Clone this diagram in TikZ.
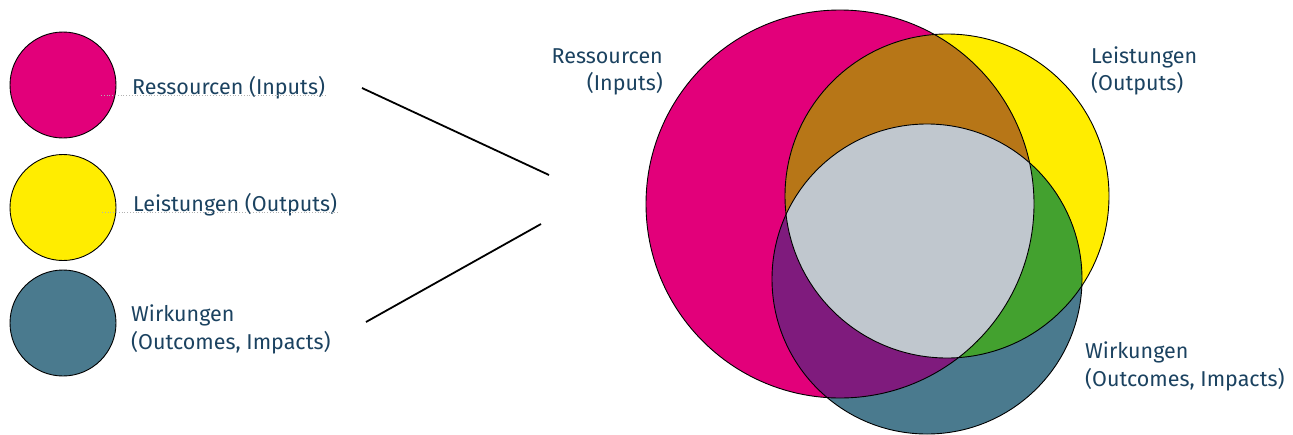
\documentclass[tikz,border=0pt]{standalone}
\usepackage{fontspec}
\setmainfont{Fira Sans}
\definecolor{cmag}{HTML}{E2007A}
\definecolor{cyel}{HTML}{FFED00}
\definecolor{cblu}{HTML}{4A7A8E}
\definecolor{cbrn}{HTML}{B77617}
\definecolor{cgrn}{HTML}{43A12F}
\definecolor{cpur}{HTML}{7F1B7D}
\definecolor{cgry}{HTML}{C0C7CE}
\definecolor{ctxt}{HTML}{1B4260}
\begin{document}
\begin{tikzpicture}[x=1pt,y=-1pt,
  lbl/.style={text=ctxt,font=\fontsize{21.5}{27.5}\selectfont,inner sep=0pt},
  legcirc/.style={circle,draw=black,line width=0.9pt,minimum size=106pt,inner sep=0pt},
  guide/.style={draw=gray!60,dotted,line width=0.8pt},
  conn/.style={draw=black,line width=1.8pt},
  outline/.style={draw=black,line width=0.9pt}]
\useasboundingbox (0,0) rectangle (1293,434);
% legend
\node[legcirc,fill=cmag] (lm) at (63,85) {};
\node[legcirc,fill=cyel] (ly) at (63,207.5) {};
\node[legcirc,fill=cblu] (lb) at (63,323) {};
\node[lbl,anchor=base west] (tm) at (132,94) {Ressourcen (Inputs)};
\node[lbl,anchor=base west] (ty) at (133,211.5) {Leistungen (Outputs)};
\node[lbl,anchor=base west,align=left] (tb) at (131,349) {Wirkungen\\(Outcomes, Impacts)};
\coordinate (gm1) at (101,95);
\coordinate (gm2) at (327,95);
\coordinate (gy1) at (102,212);
\coordinate (gy2) at (338,212);
\draw[guide] (gm1) -- (gm2);
\draw[guide] (gy1) -- (gy2);
% connectors
\coordinate (c1a) at (362,88);
\coordinate (c1b) at (549,175);
\coordinate (c2a) at (366,322);
\coordinate (c2b) at (541,224);
\draw[conn] (c1a) -- (c1b);
\draw[conn] (c2a) -- (c2b);
% venn
\coordinate (vm) at (840,204);
\coordinate (vy) at (947,196);
\coordinate (vb) at (927,279);
\def\pm{(vm) circle[radius=194pt]}
\def\py{(vy) circle[radius=162pt]}
\def\pb{(vb) circle[radius=155pt]}
\fill[cmag] \pm;
\fill[cyel] \py;
\fill[cblu] \pb;
\begin{scope}\clip \pm; \fill[cbrn] \py; \end{scope}
\begin{scope}\clip \pm; \fill[cpur] \pb; \end{scope}
\begin{scope}\clip \py; \fill[cgrn] \pb; \end{scope}
\begin{scope}\clip \pm; \clip \py; \fill[cgry] \pb; \end{scope}
\draw[outline] \pm;
\draw[outline] \py;
\draw[outline] \pb;
% venn labels
\node[lbl,anchor=base east,align=right] (rm) at (663,90.5) {Ressourcen\\(Inputs)};
\node[lbl,anchor=base west,align=left] (ry) at (1091,90.5) {Leistungen\\(Outputs)};
\node[lbl,anchor=base west,align=left] (rb) at (1085,386) {Wirkungen\\(Outcomes, Impacts)};
\end{tikzpicture}
\end{document}
